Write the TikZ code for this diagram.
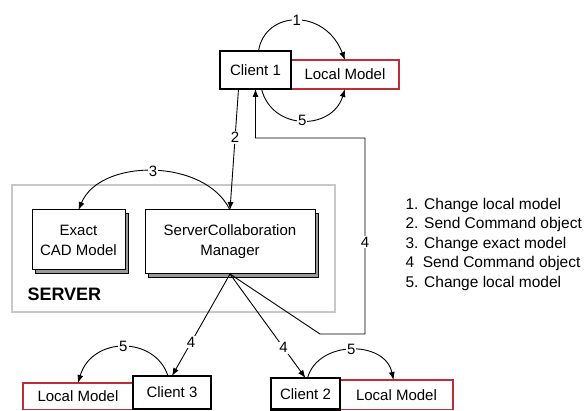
\documentclass[tikz,border=0pt]{standalone}
\usepackage{fontspec}
\setmainfont{Liberation Sans}
\usetikzlibrary{calc,arrows.meta,shadows}
\definecolor{modelred}{RGB}{190,45,58}
\definecolor{servergray}{RGB}{200,200,200}

\begin{document}
\begin{tikzpicture}[
      x=1pt, y=-1pt,
      font=\fontsize{15}{20}\selectfont,
      box/.style={anchor=north west, inner sep=1pt, outer sep=0pt, align=center, fill=white},
      client/.style={box, draw=black, line width=2.4pt},
      localmodel/.style={box, draw=modelred, line width=1.3pt},
      srvpart/.style={box, draw=black, line width=1pt,
        general shadow={draw=black, fill=black!40, line width=0.8pt, shadow xshift=3pt, shadow yshift=-3pt}},
      link/.style={draw=black, line width=0.9pt, -{Latex[length=8pt,width=6pt]}},
      num/.style={fill=white, inner sep=1pt}
    ]
    \useasboundingbox (0,0) rectangle (587,411);

    % ---- server area ----
    \node[draw=servergray, line width=1.6pt, anchor=north west, outer sep=0pt,
      minimum width=323, minimum height=127] (server) at (12,185) {};
    \node[anchor=west, font=\fontsize{18}{20}\selectfont\bfseries] (srvlabel) at (24,294) {SERVER};
    \node[srvpart, minimum width=93, minimum height=60] (exactcad) at (32,210) {Exact\\CAD Model};
    \node[srvpart, minimum width=170, minimum height=64] (manager) at (145,210) {ServerCollaboration\\Manager};

    % ---- local models, then the clients over them ----
    \node[localmodel, minimum width=108, minimum height=29] (local1) at (291,60) {Local Model};
    \node[localmodel, minimum width=110, minimum height=26.5] (local3) at (23,383) {Local Model};
    \node[localmodel, minimum width=113, minimum height=29.5] (local2) at (340,380) {Local Model};
    \node[client, minimum width=71, minimum height=38] (client1) at (220,51) {Client 1};
    \node[client, minimum width=78, minimum height=33] (client3) at (133,376) {Client 3};
    \node[client, minimum width=69, minimum height=31.5] (client2) at (271,378) {Client 2};

    % ---- steps 1 and 5 at client 1 ----
    \draw[link] ($(client1.north)+(3,0)$) .. controls +(6.5,-41) and +(-20,-52) ..
      node[num] (n1) {1} (local1.north);
    \draw[link] ($(client1.south)+(6,0)$) .. controls +(10.5,42) and +(-13,42) ..
      node[num] (n5a) {5} (local1.south);

    % ---- step 2: command to the server ----
    \draw[link] ($(client1.south)+(-17,0)$) -- node[num, pos=0.4] (n2) {2} (manager.north);

    % ---- step 3: change exact model ----
    \draw[link] (manager.north) .. controls +(-25,-52) and +(21.5,-52) ..
      node[num] (n3) {3} (exactcad.north);

    % ---- step 4: commands back to the clients ----
    \draw[link] (manager.south) -- node[num, pos=0.67] (n4a) {4} (client3.north);
    \draw[link] (manager.south) -- node[num, pos=0.71] (n4b) {4} (client2.north);
    \draw[link] (manager.south) -- (320,334) -- (365,334)
      -- node[num, pos=0.47] (n4c) {4} (365,138) -| (client1.south);

    % ---- step 5 at clients 3 and 2 ----
    \draw[link] ($(client3.north)+(-4,0)$) .. controls +(-13,-40) and +(14,-47) ..
      node[num] (n5b) {5} (local3.north);
    \draw[link] ($(client2.north)+(2,0)$) .. controls +(10.5,-38) and +(-8.5,-40) ..
      node[num] (n5c) {5} ($(local2.north)+(-3,0)$);

    % ---- legend ----
    \node[anchor=west, align=left, font=\fontsize{15.5}{19.5}\selectfont] (legend) at (402,244)
      {1. Change local model\\2. Send Command object\\3. Change exact model\\4\phantom{.} Send Command object\\5. Change local model};
  \end{tikzpicture}
\end{document}
